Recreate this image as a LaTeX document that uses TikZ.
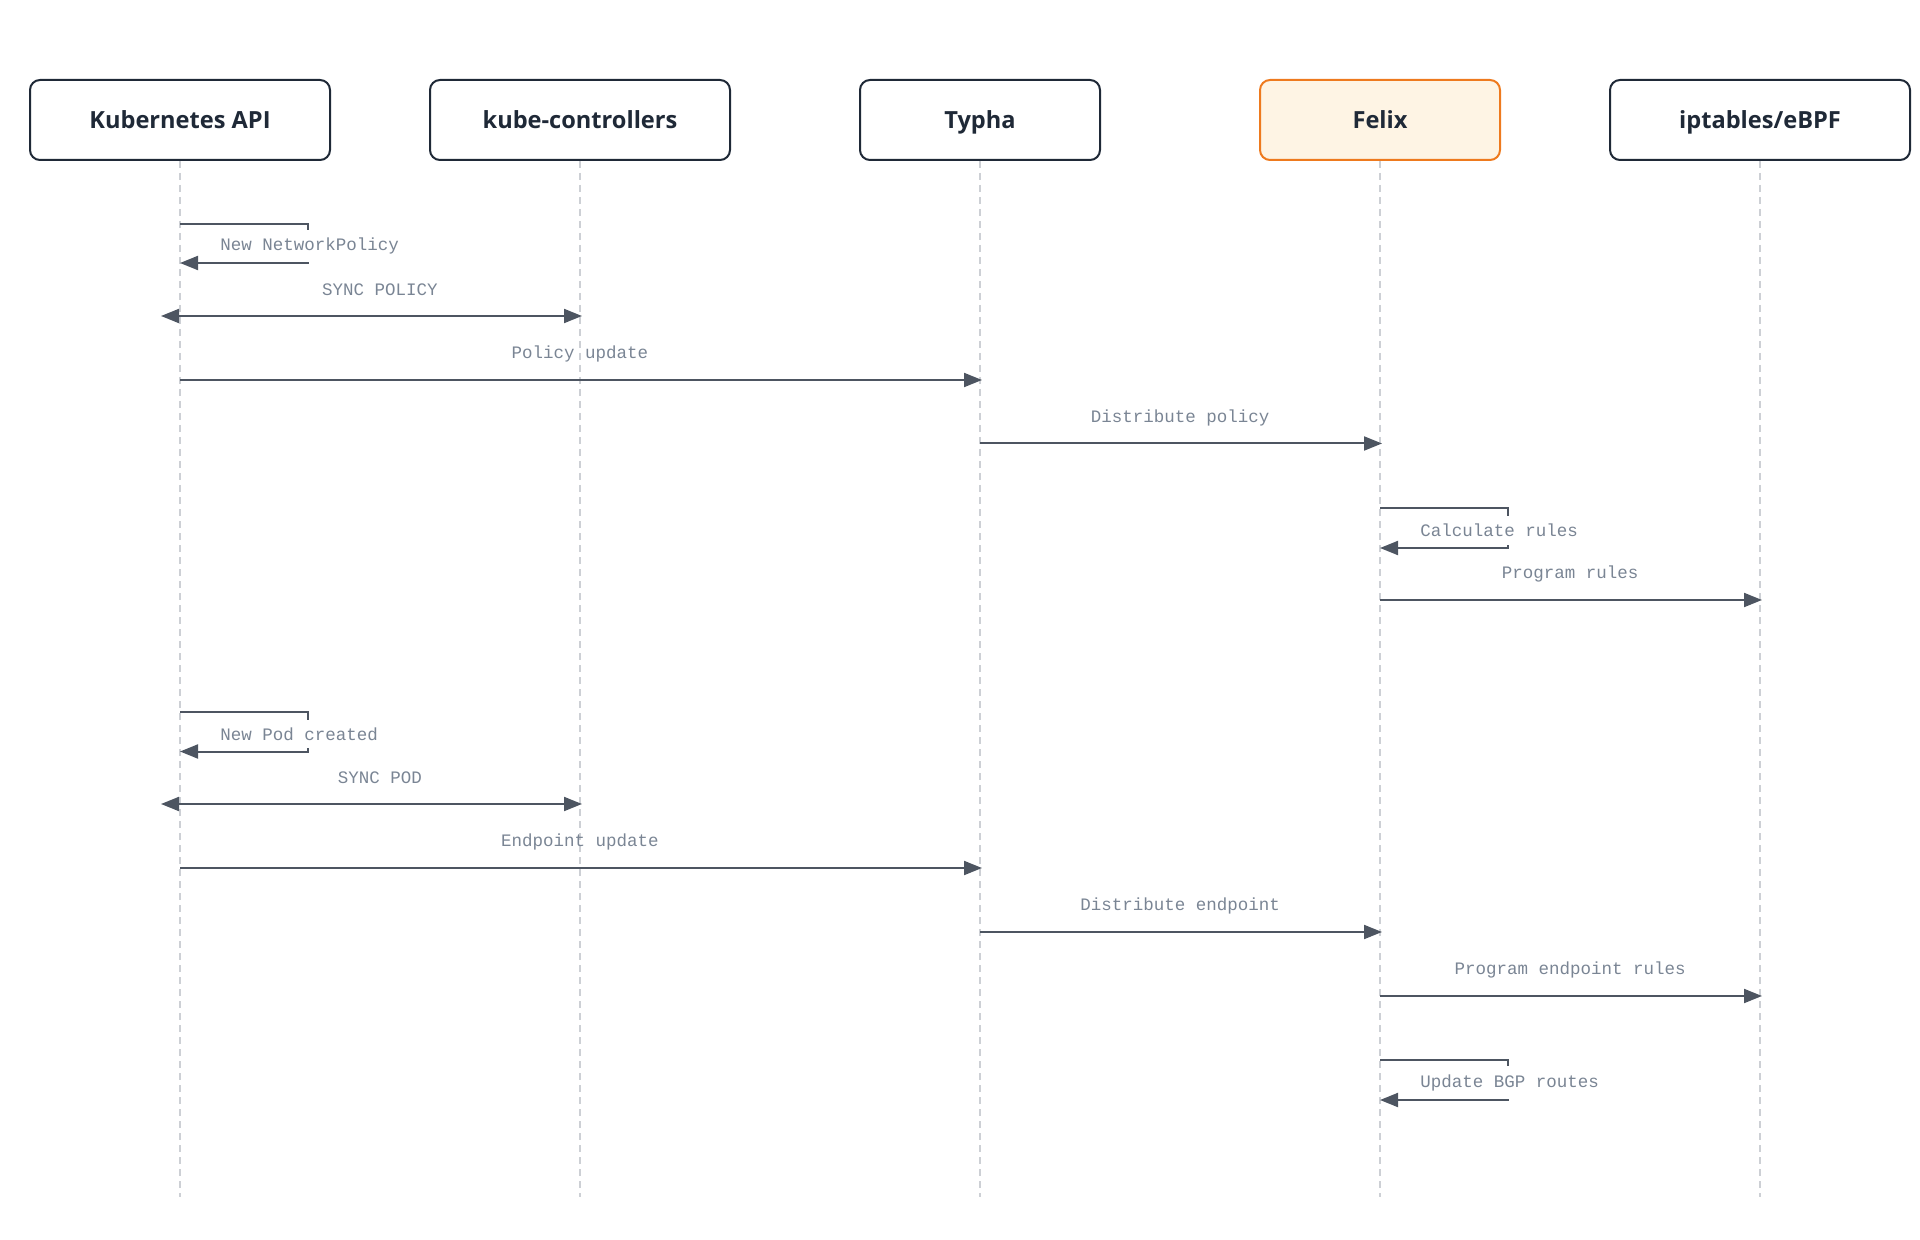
\documentclass[tikz,border=0pt]{standalone}
\usepackage{fontspec}
\setmainfont{Open Sans}
\setmonofont{Liberation Mono}
\usetikzlibrary{arrows.meta,calc}
\definecolor{ink}{HTML}{1F2937}
\definecolor{arrowc}{HTML}{4D5561}
\definecolor{lblc}{HTML}{7A8594}
\definecolor{lifec}{HTML}{CDD0D5}
\definecolor{felixfill}{HTML}{FEF4E4}
\definecolor{felixdraw}{HTML}{EE7A1E}
\begin{document}
\begin{tikzpicture}[x=0.5pt,y=-0.5pt,
  actor/.style={draw=ink, line width=1pt, rounded corners=5pt, minimum height=40pt,
    font=\bfseries\fontsize{11.8}{14}\selectfont, text=ink, fill=white, inner sep=0pt,
    text height=8.4pt, text depth=0pt},
  wideactor/.style={actor, minimum width=150pt},
  narrowactor/.style={actor, minimum width=120pt},
  life/.style={draw=lifec, line width=0.75pt, dash pattern=on 3.5pt off 2.5pt},
  msg/.style={draw=arrowc, line width=1pt, -{Triangle[length=9pt,width=7pt]}, shorten >=-1pt},
  bimsg/.style={draw=arrowc, line width=1pt, {Triangle[length=9pt,width=7pt]}-{Triangle[length=9pt,width=7pt]}, shorten <=-9.5pt, shorten >=-1pt},
  lbl/.style={font=\ttfamily\fontsize{8.75}{10}\selectfont, text=lblc, inner sep=0pt},
  looplbl/.style={lbl, anchor=west, fill=white, inner sep=1pt, inner ysep=4pt},
]
\useasboundingbox (0,0) rectangle (1920,1240);

% actors
\node[wideactor] (kapi) at (180,120) {Kubernetes API};
\node[wideactor] (kc) at (580,120) {kube-controllers};
\node[narrowactor] (typha) at (980,120) {Typha};
\node[narrowactor, fill=felixfill, draw=felixdraw] (felix) at (1380,120) {Felix};
\node[wideactor] (ipt) at (1760,120) {iptables/eBPF};

% lifelines
\foreach \a in {kapi,kc,typha,felix,ipt}{
  \coordinate (\a-end) at (\a |- 0,1197);
  \draw[life] (\a.south) -- (\a-end);
}

% 1 New NetworkPolicy (self)
\draw[msg, shorten >=0pt] (kapi |- 0,224) -- ++(128,0) -- ++(0,39) -- (kapi |- 0,263);
\node[looplbl] (l1) at ($(kapi |- 0,246)+(38,0)$) {New NetworkPolicy};

% 2 SYNC POLICY
\draw[bimsg] (kapi |- 0,316) -- (kc |- 0,316)
  node[lbl, midway, yshift=12.9pt] (l2) {SYNC POLICY};

% 3 Policy update
\draw[msg] (kapi |- 0,380) -- (typha |- 0,380)
  node[lbl, midway, yshift=12.9pt] (l3) {Policy update};

% 4 Distribute policy
\draw[msg] (typha |- 0,443.5) -- (felix |- 0,443.5)
  node[lbl, midway, yshift=12.9pt] (l4) {Distribute policy};

% 5 Calculate rules (self)
\draw[msg, shorten >=0pt] (felix |- 0,508) -- ++(128,0) -- ++(0,40) -- (felix |- 0,548);
\node[looplbl] (l5) at ($(felix |- 0,530.5)+(38,0)$) {Calculate rules};

% 6 Program rules
\draw[msg] (felix |- 0,600) -- (ipt |- 0,600)
  node[lbl, midway, yshift=12.9pt] (l6) {Program rules};

% 7 New Pod created (self)
\draw[msg, shorten >=0pt] (kapi |- 0,711.5) -- ++(128,0) -- ++(0,40) -- (kapi |- 0,751.5);
\node[looplbl] (l7) at ($(kapi |- 0,734)+(38,0)$) {New Pod created};

% 8 SYNC POD
\draw[bimsg] (kapi |- 0,804) -- (kc |- 0,804)
  node[lbl, midway, yshift=12.9pt] (l8) {SYNC POD};

% 9 Endpoint update
\draw[msg] (kapi |- 0,868) -- (typha |- 0,868)
  node[lbl, midway, yshift=12.9pt] (l9) {Endpoint update};

% 10 Distribute endpoint
\draw[msg] (typha |- 0,932) -- (felix |- 0,932)
  node[lbl, midway, yshift=12.9pt] (l10) {Distribute endpoint};

% 11 Program endpoint rules
\draw[msg] (felix |- 0,996) -- (ipt |- 0,996)
  node[lbl, midway, yshift=12.9pt] (l11) {Program endpoint rules};

% 12 Update BGP routes (self)
\draw[msg, shorten >=0pt] (felix |- 0,1060) -- ++(128,0) -- ++(0,40) -- (felix |- 0,1100);
\node[looplbl] (l12) at ($(felix |- 0,1082.5)+(38,0)$) {Update BGP routes};
\end{tikzpicture}
\end{document}
